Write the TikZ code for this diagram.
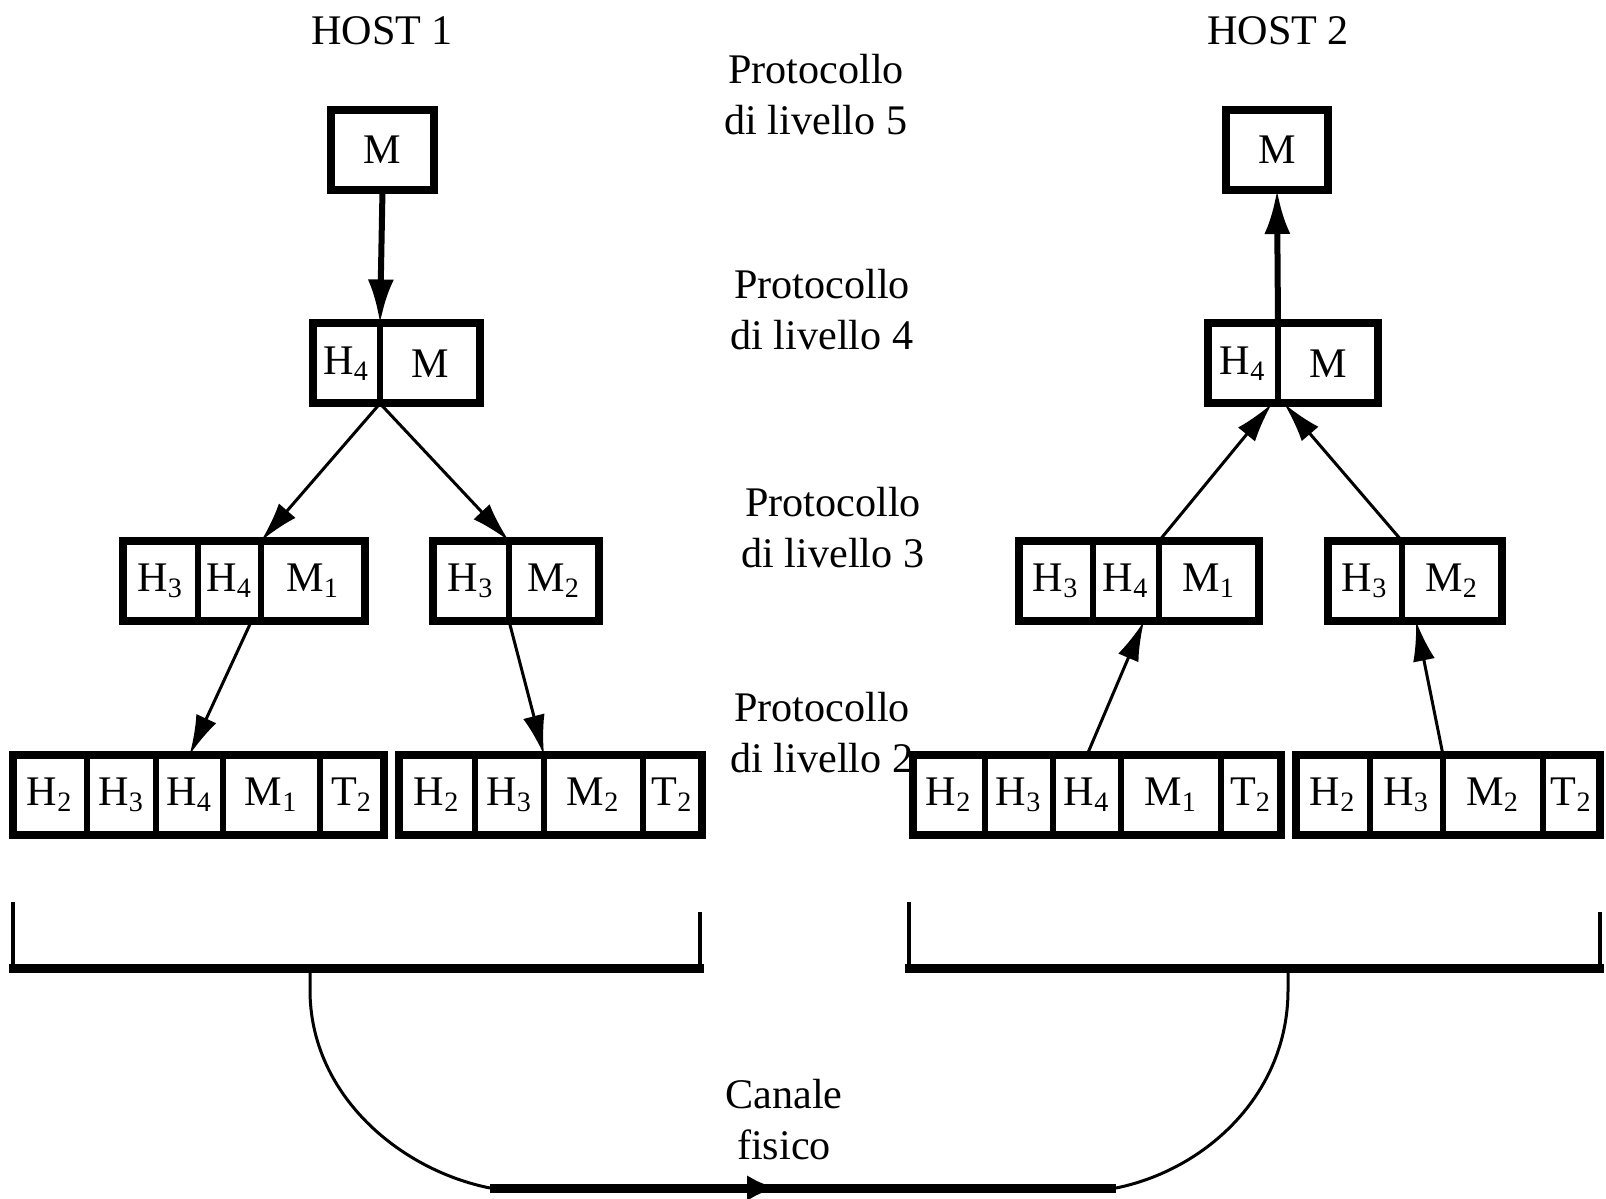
\documentclass[tikz,border=0pt]{standalone}
\usepackage{fontspec}
\setmainfont{Liberation Serif}
\usepackage{tikz}
\usetikzlibrary{arrows.meta,fit}

\begin{document}
\begin{tikzpicture}
      [ x=1mm, y=-1mm
      , cell/.style={draw, fill=white, line width=0.55mm, minimum height=8mm, inner sep=0pt, outer sep=0pt, font=\fontsize{12}{14}\selectfont}
      , pduFrame/.style={draw, line width=0.8mm, inner sep=0pt, outer sep=0pt}
      , levelLabel/.style={align=center, font=\fontsize{12}{14.5}\selectfont}
      , pass/.style={-{Latex[length=4mm, width=2.2mm]}, line width=0.3mm}
      , passThick/.style={-{Latex[length=4.4mm, width=2.6mm]}, line width=0.6mm}
      , wire/.style={line width=0.4mm}
      , bus/.style={line width=0.9mm}
      ]
    \useasboundingbox (0,0) rectangle (160.6,119.9);

    \node[levelLabel] (HA) at (38.2, 3.1) {HOST 1};
    \node[levelLabel] (HB) at (127.8, 3.1) {HOST 2};

    \node[levelLabel] (P5) at (81.6, 9.45) {Protocollo\\di livello 5};
    \node[levelLabel] (P4) at (82.2, 31.0) {Protocollo\\di livello 4};
    \node[levelLabel] (P3) at (83.3, 52.75) {Protocollo\\di livello 3};
    \node[levelLabel] (P2) at (82.2, 73.3) {Protocollo\\di livello 2};
    \node[levelLabel] (CF) at (78.4, 111.95) {Canale\\fisico};

    % host 1
    \node[cell, minimum width=10.3mm] (A5M) at (38.25, 15.0) {M};

    \node[cell, minimum width=6.7mm] (A4H4) at (34.65, 36.35) {H\textsubscript{4}};
    \node[cell, minimum width=10mm] (A4M) at (43.0, 36.35) {M};

    \node[cell, minimum width=7.5mm] (A3H3) at (16.05, 58.1) {H\textsubscript{3}};
    \node[cell, minimum width=6.3mm] (A3H4) at (22.95, 58.1) {H\textsubscript{4}};
    \node[cell, minimum width=10.4mm] (A3M1) at (31.3, 58.1) {M\textsubscript{1}};
    \node[cell, minimum width=7.6mm] (A3xH3) at (47.1, 58.1) {H\textsubscript{3}};
    \node[cell, minimum width=9mm] (A3xM2) at (55.4, 58.1) {M\textsubscript{2}};

    \node[cell, minimum width=7.4mm] (A2H2) at (5.0, 79.5) {H\textsubscript{2}};
    \node[cell, minimum width=6.9mm] (A2H3) at (12.15, 79.5) {H\textsubscript{3}};
    \node[cell, minimum width=6.7mm] (A2H4) at (18.95, 79.5) {H\textsubscript{4}};
    \node[cell, minimum width=9.7mm] (A2M1) at (27.15, 79.5) {M\textsubscript{1}};
    \node[cell, minimum width=6.4mm] (A2T2) at (35.2, 79.5) {T\textsubscript{2}};
    \node[cell, minimum width=7.6mm] (A2xH2) at (43.7, 79.5) {H\textsubscript{2}};
    \node[cell, minimum width=6.9mm] (A2xH3) at (50.95, 79.5) {H\textsubscript{3}};
    \node[cell, minimum width=9.9mm] (A2xM2) at (59.35, 79.5) {M\textsubscript{2}};
    \node[cell, minimum width=5.9mm] (A2xT2) at (67.25, 79.5) {T\textsubscript{2}};

    % host 2
    \node[cell, minimum width=10.2mm] (B5M) at (127.7, 15.0) {M};

    \node[cell, minimum width=7mm] (B4H4) at (124.3, 36.35) {H\textsubscript{4}};
    \node[cell, minimum width=10mm] (B4M) at (132.8, 36.35) {M};

    \node[cell, minimum width=7.4mm] (B3H3) at (105.6, 58.1) {H\textsubscript{3}};
    \node[cell, minimum width=6.6mm] (B3H4) at (112.6, 58.1) {H\textsubscript{4}};
    \node[cell, minimum width=10mm] (B3M1) at (120.9, 58.1) {M\textsubscript{1}};
    \node[cell, minimum width=7.4mm] (B3xH3) at (136.5, 58.1) {H\textsubscript{3}};
    \node[cell, minimum width=10mm] (B3xM2) at (145.2, 58.1) {M\textsubscript{2}};

    \node[cell, minimum width=7.2mm] (B2H2) at (94.9, 79.5) {H\textsubscript{2}};
    \node[cell, minimum width=6.8mm] (B2H3) at (101.9, 79.5) {H\textsubscript{3}};
    \node[cell, minimum width=6.8mm] (B2H4) at (108.7, 79.5) {H\textsubscript{4}};
    \node[cell, minimum width=10mm] (B2M1) at (117.1, 79.5) {M\textsubscript{1}};
    \node[cell, minimum width=6mm] (B2T2) at (125.1, 79.5) {T\textsubscript{2}};
    \node[cell, minimum width=7.4mm] (B2xH2) at (133.3, 79.5) {H\textsubscript{2}};
    \node[cell, minimum width=7.3mm] (B2xH3) at (140.65, 79.5) {H\textsubscript{3}};
    \node[cell, minimum width=10mm] (B2xM2) at (149.3, 79.5) {M\textsubscript{2}};
    \node[cell, minimum width=5.7mm] (B2xT2) at (157.15, 79.5) {T\textsubscript{2}};

    \node[pduFrame, fit=(A5M)] (A5) {};
    \node[pduFrame, fit=(A4H4)(A4M)] (A4) {};
    \node[pduFrame, fit=(A3H3)(A3M1)] (A3) {};
    \node[pduFrame, fit=(A3xH3)(A3xM2)] (A3x) {};
    \node[pduFrame, fit=(A2H2)(A2T2)] (A2) {};
    \node[pduFrame, fit=(A2xH2)(A2xT2)] (A2x) {};
    \node[pduFrame, fit=(B5M)] (B5) {};
    \node[pduFrame, fit=(B4H4)(B4M)] (B4) {};
    \node[pduFrame, fit=(B3H3)(B3M1)] (B3) {};
    \node[pduFrame, fit=(B3xH3)(B3xM2)] (B3x) {};
    \node[pduFrame, fit=(B2H2)(B2T2)] (B2) {};
    \node[pduFrame, fit=(B2xH2)(B2xT2)] (B2x) {};

    \path[passThick]
    (A5M.south) edge (A4H4.north east)
    (B4H4.north east) edge (B5M.south);

    \path[pass]
    (A4H4.south east) edge (A3M1.north west)
    (A4H4.south east) edge (A3xH3.north east)
    ([xshift=2.2mm]A3H4.south) edge (A2H4.north)
    (A3xH3.south east) edge (A2xM2.north west)

    (B3M1.north west) edge ([xshift=-0.6mm]B4H4.south east)
    (B3xH3.north east) edge ([xshift=0.6mm]B4H4.south east)
    (B2H4.north) edge ([xshift=1.8mm]B3H4.south)
    (B2xH3.north east) edge ([xshift=1.4mm]B3xH3.south east);

    % attachments to the medium
    \draw[wire] (1.3, 90.2) -- (1.3, 96.8);
    \draw[wire] (70.0, 91.2) -- (70.0, 96.8);
    \draw[bus] (0.9, 96.8) -- (70.4, 96.8);
    \draw[wire] (90.9, 90.2) -- (90.9, 96.8);
    \draw[wire] (160.0, 91.2) -- (160.0, 96.8);
    \draw[bus] (90.5, 96.8) -- (160.4, 96.8);

    \coordinate (tapA) at (31.0, 96.8);
    \coordinate (tapB) at (128.8, 96.8);
    \coordinate (lineA) at (49.0, 118.8);
    \coordinate (lineMid) at (77.7, 118.8);
    \coordinate (lineB) at (111.6, 118.8);

    \draw[line width=0.3mm] (tapA) -- (31.0, 99.0) .. controls (31.0, 109.5) and (40.0, 117.0) .. (lineA);
    \draw[line width=0.3mm] (tapB) -- (128.8, 99.0) .. controls (128.8, 109.5) and (120.5, 117.0) .. (lineB);
    \draw[bus] (lineA) -- (lineB);
    \draw[bus, -{Latex[length=3mm, width=2.6mm]}] (lineA) -- (lineMid);

  \end{tikzpicture}
\end{document}
